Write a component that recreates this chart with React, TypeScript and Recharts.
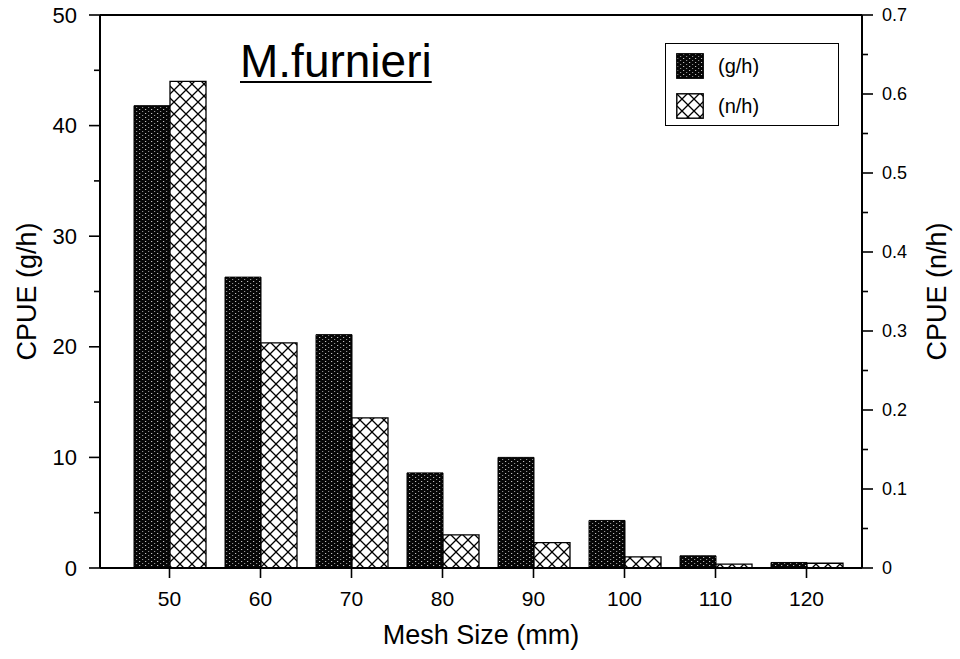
import React from 'react';
import { BarChart, Bar, XAxis, YAxis, ReferenceLine } from 'recharts';

// CPUE by gill-net mesh size
const meshSizes = ['50', '60', '70', '80', '90', '100', '110', '120'];
const cpueWeight = [41.8, 26.3, 21.1, 8.6, 10.0, 4.3, 1.1, 0.5]; // g/h
const cpueNumber = [0.616, 0.285, 0.19, 0.042, 0.032, 0.014, 0.005, 0.006]; // n/h

const leftTicks = [0, 5, 10, 15, 20, 25, 30, 35, 40, 45, 50];
const rightTicks = [0, 0.05, 0.1, 0.15, 0.2, 0.25, 0.3, 0.35, 0.4, 0.45, 0.5, 0.55, 0.6, 0.65, 0.7];

const rows = meshSizes.map((mesh, i) => ({
  mesh,
  weight: cpueWeight[i],
  number: cpueNumber[i],
}));

const FONT = '"Liberation Sans", Arial, Helvetica, sans-serif';
const INK = '#000';

function LeftTick({ x, y, payload }: any) {
  const v = payload.value as number;
  const major = v % 10 === 0;
  return (
    <g>
      <line x1={x} x2={x - (major ? 11 : 6)} y1={y} y2={y} stroke={INK} strokeWidth={1.6} />
      {major && (
        <text x={x - 23} y={y} textAnchor="end" dominantBaseline="central" fontSize={22} fontFamily={FONT} fill={INK}>
          {v}
        </text>
      )}
    </g>
  );
}

function RightTick({ x, y, payload }: any) {
  const v = payload.value as number;
  const major = Math.round(v * 100) % 10 === 0;
  return (
    <g>
      <line x1={x} x2={x + (major ? 11 : 6)} y1={y} y2={y} stroke={INK} strokeWidth={1.6} />
      {major && (
        <text x={x + 20} y={y} textAnchor="start" dominantBaseline="central" fontSize={18} fontFamily={FONT} fill={INK}>
          {v === 0 ? '0' : v.toFixed(1)}
        </text>
      )}
    </g>
  );
}

function BottomTick({ x, y, payload }: any) {
  return (
    <text x={x} y={y + 18} textAnchor="middle" dominantBaseline="central" fontSize={21} fontFamily={FONT} fill={INK}>
      {payload.value}
    </text>
  );
}

const axisTitle = (text: string, dx: number, dy: number, angle: number) => (props: any) => {
  const { x, y, width, height } = props.viewBox;
  const cx = dx >= 0 ? x + dx : x + width + dx;
  const cy = dy === 0 ? y + height / 2 : y + dy;
  return (
    <text
      x={cx}
      y={cy}
      textAnchor="middle"
      dominantBaseline="central"
      fontSize={27}
      fontFamily={FONT}
      fill={INK}
      transform={angle ? `rotate(${angle} ${cx} ${cy})` : undefined}
    >
      {text}
    </text>
  );
};

function Patterns() {
  return (
    <defs>
      <pattern id="stipple" patternUnits="userSpaceOnUse" width="6" height="4">
        <rect width="6" height="4" fill="#060606" />
        <rect x="1" y="1" width="1.2" height="1" fill="#fff" opacity="0.75" />
        <rect x="4" y="3" width="1.2" height="1" fill="#fff" opacity="0.55" />
      </pattern>
      <pattern id="xhatch" patternUnits="userSpaceOnUse" width="12" height="12">
        <rect width="12" height="12" fill="#fff" />
        <path d="M0,0 L12,12 M12,0 L0,12" stroke={INK} strokeWidth="1.3" />
      </pattern>
    </defs>
  );
}

function LegendBox() {
  const item = (fill: string, label: string) => (
    <div style={{ display: 'flex', alignItems: 'center', height: 40 }}>
      <svg width={28} height={26} style={{ marginRight: 14 }}>
        <Patterns />
        <rect x={0.8} y={0.8} width={26.4} height={24.4} fill={fill} stroke={INK} strokeWidth={1.4} />
      </svg>
      <span style={{ fontSize: 20, fontFamily: FONT, color: INK }}>{label}</span>
    </div>
  );
  return (
    <div
      style={{
        position: 'absolute',
        left: 665,
        top: 43,
        width: 174,
        height: 83,
        border: `1.5px solid ${INK}`,
        boxSizing: 'border-box',
        padding: '2px 0 0 10px',
        background: '#fff',
      }}
    >
      {item('url(#stipple)', '(g/h)')}
      {item('url(#xhatch)', '(n/h)')}
    </div>
  );
}

export default function App() {
  return (
    <div style={{ position: 'absolute', left: 0, top: 0, width: 960, height: 659, background: '#fff' }}>
      <BarChart
        width={960}
        height={659}
        data={rows}
        margin={{ top: 15, right: 0, bottom: 0, left: 0 }}
        barSize={36}
        barGap={0}
      >
        <Patterns />
        <XAxis
          dataKey="mesh"
          height={91}
          padding={{ left: 24, right: 10 }}
          stroke={INK}
          strokeWidth={2}
          tickSize={10}
          tickLine={{ stroke: INK, strokeWidth: 1.6 }}
          tick={<BottomTick />}
          interval={0}
          label={{ content: axisTitle('Mesh Size (mm)', 381, 67, 0) }}
        />
        <YAxis
          yAxisId="left"
          width={100}
          domain={[0, 50]}
          ticks={leftTicks}
          interval={0}
          stroke={INK}
          strokeWidth={2}
          tickLine={false}
          tickSize={0}
          tickMargin={0}
          tick={<LeftTick />}
          label={{ content: axisTitle('CPUE (g/h)', 27, 0, -90) }}
        />
        <YAxis
          yAxisId="right"
          orientation="right"
          width={98}
          domain={[0, 0.7]}
          ticks={rightTicks}
          interval={0}
          stroke={INK}
          strokeWidth={2}
          tickLine={false}
          tickSize={0}
          tickMargin={0}
          tick={<RightTick />}
          label={{ content: axisTitle('CPUE (n/h)', -23, 0, -90) }}
        />
        <ReferenceLine yAxisId="left" y={50} stroke={INK} strokeWidth={2} />
        <Bar
          yAxisId="left"
          dataKey="weight"
          fill="url(#stipple)"
          stroke={INK}
          strokeWidth={1}
          isAnimationActive={false}
        />
        <Bar
          yAxisId="right"
          dataKey="number"
          fill="url(#xhatch)"
          stroke={INK}
          strokeWidth={1.3}
          isAnimationActive={false}
        />
      </BarChart>

      <div
        style={{
          position: 'absolute',
          left: 240,
          top: 38,
          fontSize: 46,
          fontFamily: FONT,
          color: INK,
          textDecoration: 'underline',
          textDecorationThickness: 2,
          textUnderlineOffset: 4,
          lineHeight: 1,
        }}
      >
        M.furnieri
      </div>
      <LegendBox />
    </div>
  );
}
